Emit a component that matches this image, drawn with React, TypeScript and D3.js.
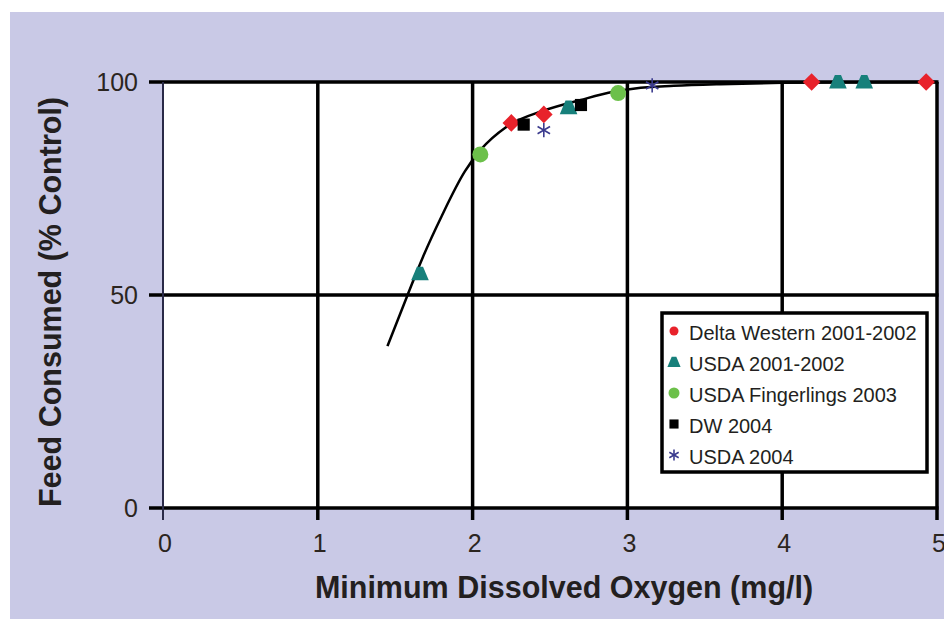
import React, { useRef, useEffect } from "react";
import * as d3 from "d3";

// fitted response curve
const curveX = [1.45, 1.58, 1.68, 1.8, 1.95, 2.05, 2.22, 2.46, 2.7, 2.91, 3.05, 3.3, 3.6, 4.0, 4.5, 5.0];
const curveY = [38, 50, 59, 68.5, 79, 84, 89.5, 93.3, 95.8, 97.7, 98.5, 99.1, 99.5, 99.8, 99.95, 100];

const deltaWestern = [
  { x: 2.25, y: 90.4 },
  { x: 2.46, y: 92.4 },
  { x: 4.19, y: 100 },
  { x: 4.93, y: 100 },
];
const usda0102 = [
  { x: 1.66, y: 55 },
  { x: 2.62, y: 94 },
  { x: 4.36, y: 100 },
  { x: 4.53, y: 100 },
];
const usdaFingerlings = [
  { x: 2.05, y: 83 },
  { x: 2.94, y: 97.4 },
];
const dw2004 = [
  { x: 2.33, y: 90 },
  { x: 2.7, y: 94.6 },
];
const usda2004 = [
  { x: 2.46, y: 88.7 },
  { x: 3.16, y: 99.2 },
];

const xTicks = [0, 1, 2, 3, 4, 5];
const yTicks = [0, 50, 100];

const legendItems = [
  { text: "Delta Western 2001-2002", type: "diamond", color: "#e8222b" },
  { text: "USDA 2001-2002", type: "triangle", color: "#17807b" },
  { text: "USDA Fingerlings 2003", type: "circle", color: "#6cc04a" },
  { text: "DW 2004", type: "square", color: "#000000" },
  { text: "USDA 2004", type: "asterisk", color: "#3b3b8e" },
];

const seriesList = [
  { data: deltaWestern, ...legendItems[0] },
  { data: usda0102, ...legendItems[1] },
  { data: usdaFingerlings, ...legendItems[2] },
  { data: dw2004, ...legendItems[3] },
  { data: usda2004, ...legendItems[4] },
];

function drawMarker(g: any, type: string, color: string, size: number) {
  if (type === "diamond") {
    const s = size * 0.55;
    g.append("path")
      .attr("d", `M0,${-s}L${s},0L0,${s}L${-s},0Z`)
      .attr("fill", color);
  } else if (type === "triangle") {
    const s = size * 0.55;
    g.append("path")
      .attr("d", `M${-s * 0.35},${-s * 0.8}L${s * 0.35},${-s * 0.8}L${s},${s * 0.75}L${-s},${s * 0.75}Z`)
      .attr("fill", color);
  } else if (type === "circle") {
    g.append("circle").attr("r", size * 0.5).attr("fill", color);
  } else if (type === "square") {
    const s = size * 0.38;
    g.append("rect")
      .attr("x", -s)
      .attr("y", -s)
      .attr("width", 2 * s)
      .attr("height", 2 * s)
      .attr("fill", color);
  } else if (type === "asterisk") {
    const s = size * 0.45;
    [0, 60, 120].forEach((a) => {
      g.append("line")
        .attr("x1", 0)
        .attr("y1", -s)
        .attr("x2", 0)
        .attr("y2", s)
        .attr("transform", `rotate(${a})`)
        .attr("stroke", color)
        .attr("stroke-width", 1.6);
    });
  }
}

const App: React.FC = () => {
  const svgRef = useRef<SVGSVGElement>(null);

  useEffect(() => {
    if (!svgRef.current) return;
    const root = d3.select(svgRef.current);
    root.selectAll("*").remove();

    const width = 944;
    const height = 619;
    const font = "'Liberation Sans', Arial, sans-serif";

    const x = d3.scaleLinear().domain([0, 5]).range([163, 937]);
    const y = d3.scaleLinear().domain([0, 100]).range([508, 82]);

    // page + lavender panel
    root.append("rect").attr("width", width).attr("height", height).attr("fill", "#ffffff");
    root
      .append("rect")
      .attr("x", 10)
      .attr("y", 12)
      .attr("width", width - 10)
      .attr("height", height - 12)
      .attr("fill", "#c9c9e6");

    // plot area
    root
      .append("rect")
      .attr("x", x(0))
      .attr("y", y(100))
      .attr("width", x(5) - x(0))
      .attr("height", y(0) - y(100))
      .attr("fill", "#ffffff");

    const svg = root.append("g");

    // horizontal grid lines (with ticks out to the left)
    yTicks.forEach((t) => {
      svg
        .append("line")
        .attr("x1", x(0) - 14)
        .attr("x2", x(5) + 1.5)
        .attr("y1", y(t))
        .attr("y2", y(t))
        .attr("stroke", "#000")
        .attr("stroke-width", 3.5);
    });

    // vertical grid lines (with ticks below)
    xTicks.forEach((t) => {
      svg
        .append("line")
        .attr("x1", x(t))
        .attr("x2", x(t))
        .attr("y1", y(100))
        .attr("y2", y(0) + 12)
        .attr("stroke", t === 0 ? "#2a2a48" : "#000")
        .attr("stroke-width", t === 0 ? 2 : 3.5);
    });

    // tick labels
    svg
      .selectAll(".ytick")
      .data(yTicks)
      .enter()
      .append("text")
      .attr("x", x(0) - 25)
      .attr("y", (d) => y(d))
      .attr("dy", "0.35em")
      .attr("text-anchor", "end")
      .attr("font-family", font)
      .attr("font-size", 25)
      .attr("fill", "#2b2520")
      .text((d) => d);

    svg
      .selectAll(".xtick")
      .data(xTicks)
      .enter()
      .append("text")
      .attr("x", (d) => x(d) + 2)
      .attr("y", 552)
      .attr("text-anchor", "middle")
      .attr("font-family", font)
      .attr("font-size", 25)
      .attr("fill", "#2b2520")
      .text((d) => d);

    // axis titles
    svg
      .append("text")
      .attr("x", 564)
      .attr("y", 598)
      .attr("text-anchor", "middle")
      .attr("font-family", font)
      .attr("font-weight", "bold")
      .attr("font-size", 30.5)
      .attr("fill", "#231f20")
      .text("Minimum Dissolved Oxygen (mg/l)");

    svg
      .append("text")
      .attr("transform", "rotate(-90)")
      .attr("x", -302)
      .attr("y", 61)
      .attr("text-anchor", "middle")
      .attr("font-family", font)
      .attr("font-weight", "bold")
      .attr("font-size", 30.5)
      .attr("fill", "#231f20")
      .text("Feed Consumed (% Control)");

    // response curve
    const line = d3
      .line<number>()
      .x((d) => x(d))
      .y((_, i) => y(curveY[i]))
      .curve(d3.curveMonotoneX);

    svg
      .append("path")
      .datum(curveX)
      .attr("fill", "none")
      .attr("stroke", "#000")
      .attr("stroke-width", 2.5)
      .attr("d", line);

    // data points
    seriesList.forEach((s) => {
      s.data.forEach((d) => {
        const g = svg.append("g").attr("transform", `translate(${x(d.x)},${y(d.y)})`);
        drawMarker(g, s.type, s.color, 16);
      });
    });

    // legend
    const legend = svg.append("g").attr("transform", "translate(662,313)");
    legend
      .append("rect")
      .attr("width", 265)
      .attr("height", 159)
      .attr("fill", "#ffffff")
      .attr("stroke", "#000")
      .attr("stroke-width", 3.5);

    legendItems.forEach((item, i) => {
      const row = legend.append("g").attr("transform", `translate(0,${20 + i * 31})`);
      const m = row.append("g").attr("transform", "translate(12,-2)");
      if (item.type === "diamond") drawMarker(m, "circle", item.color, 9);
      else if (item.type === "circle") drawMarker(m, "circle", item.color, 11);
      else drawMarker(m, item.type, item.color, 12);
      row
        .append("text")
        .attr("x", 27)
        .attr("y", 0)
        .attr("dy", "0.35em")
        .attr("font-family", font)
        .attr("font-size", 20)
        .attr("fill", "#231f20")
        .text(item.text);
    });
  }, []);

  return (
    <svg
      ref={svgRef}
      width={944}
      height={619}
      style={{ position: "absolute", left: 0, top: 0, display: "block" }}
    ></svg>
  );
};

export default App;
